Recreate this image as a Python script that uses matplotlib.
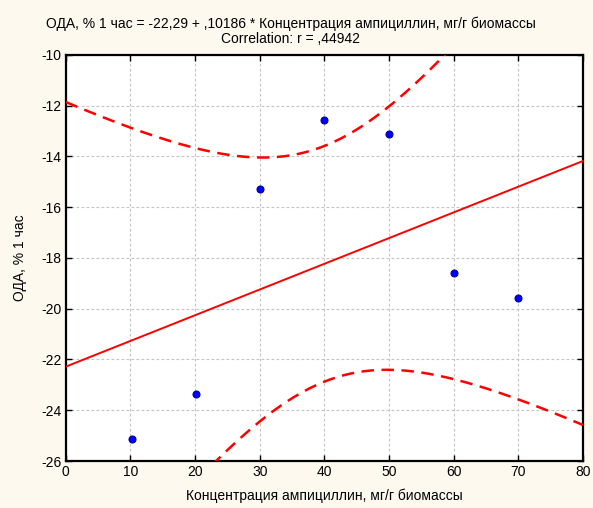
import numpy as np
import matplotlib.pyplot as plt

# values
conc = [10.2, 20.2, 30.0, 40.0, 50.0, 60.0, 70.0]
oda = [-25.12, -23.35, -15.3, -12.56, -13.1, -18.58, -19.57]

x_ticks = [0, 10, 20, 30, 40, 50, 60, 70, 80]
y_ticks = [-26, -24, -22, -20, -18, -16, -14, -12, -10]

title = ("ОДА, % 1 час = -22,29 + ,10186 * Концентрация ампициллин, мг/г биомассы\n"
         "Correlation: r = ,44942")
xlabel = "Концентрация ампициллин, мг/г биомассы"
ylabel = "ОДА, % 1 час"

plt.rcParams["font.family"] = ["Liberation Sans", "DejaVu Sans"]
plt.rcParams["axes.unicode_minus"] = False

x = np.array(conc)
y = np.array(oda)
n = len(x)
b, a = np.polyfit(x, y, 1)
resid = y - (a + b * x)
s = np.sqrt(np.sum(resid ** 2) / (n - 2))
sxx = np.sum((x - x.mean()) ** 2)
t = 2.5706  # t(0.975, df=5)

xs = np.linspace(0, 80, 300)
fit = a + b * xs
half = t * s * np.sqrt(1 / n + (xs - x.mean()) ** 2 / sxx)

fig = plt.figure(figsize=(5.93, 5.08), dpi=100, facecolor="#fdf9ef")
ax = fig.add_axes([0.111, 0.0925, 0.872, 0.7995])
ax.set_facecolor("white")

ax.plot(xs, fit, color="#ff0000", linewidth=1.4, zorder=3)
ax.plot(xs, fit + half, color="#ff0000", linewidth=1.8, linestyle=(0, (5, 3)), zorder=3)
ax.plot(xs, fit - half, color="#ff0000", linewidth=1.8, linestyle=(0, (5, 3)), zorder=3)
ax.scatter(x, y, s=26, color="#0000ff", edgecolors="#00008b", linewidths=0.7, zorder=4)

ax.set_xlim(0, 80)
ax.set_ylim(-26, -10)
ax.set_xticks(x_ticks)
ax.set_yticks(y_ticks)
ax.tick_params(axis="both", direction="in", length=4, width=1, labelsize=10,
               top=True, right=True, pad=3)
ax.grid(True, color="#c4c4c4", linestyle=(0, (2.5, 2)), linewidth=0.8)
for sp in ax.spines.values():
    sp.set_linewidth(1.6)
    sp.set_color("black")

fig.text(0.49, 0.938, title, fontsize=10, ha="center", va="center", linespacing=1.05)
ax.set_xlabel(xlabel, fontsize=10, labelpad=7)
ax.set_ylabel(ylabel, fontsize=10, labelpad=10)

fig.savefig("out.png", dpi=100, facecolor=fig.get_facecolor())
